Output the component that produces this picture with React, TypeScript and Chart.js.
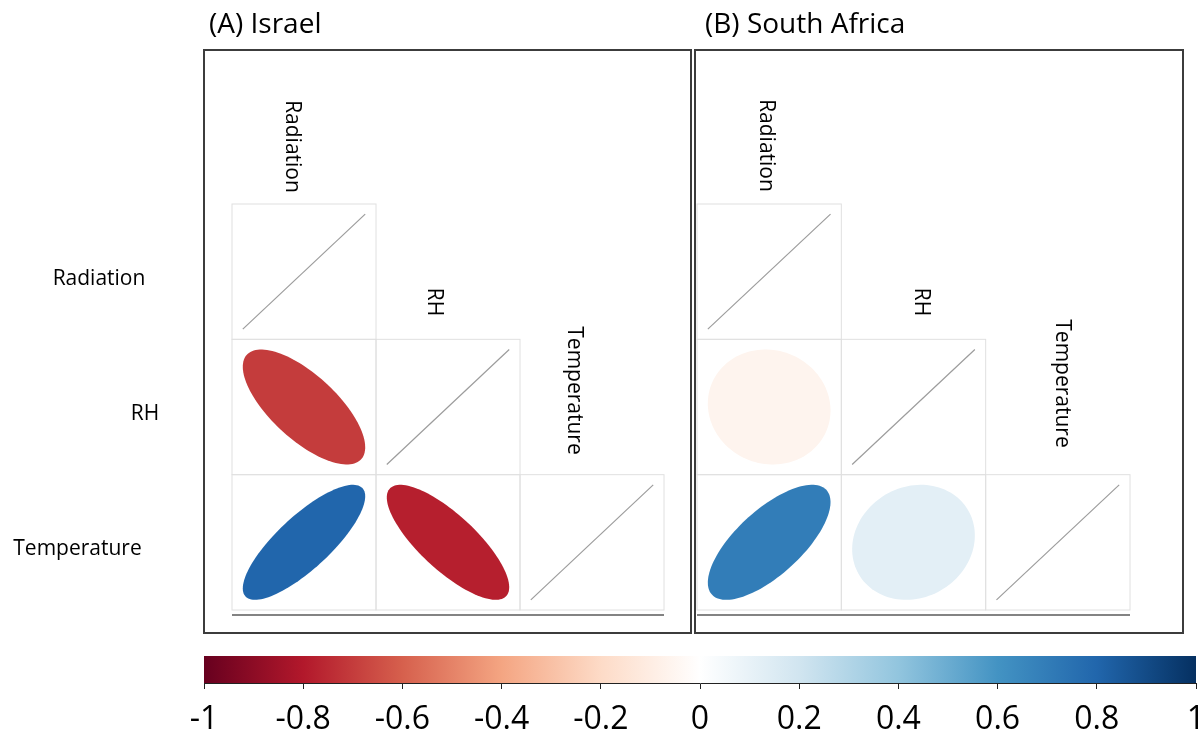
import React, { useEffect, useRef } from 'react';
import { Chart, registerables } from 'chart.js';

Chart.register(...registerables);

// ---------- data ----------
const variables = ['Radiation', 'RH', 'Temperature'];
const panelTitles = ['(A) Israel', '(B) South Africa'];

// lower-triangle correlation rows (row variable vs. column variables)
const israelRadiationRow = [1];
const israelRHRow = [-0.7, 1];
const israelTemperatureRow = [0.8, -0.78, 1];

const southAfricaRadiationRow = [1];
const southAfricaRHRow = [-0.06, 1];
const southAfricaTemperatureRow = [0.7, 0.12, 1];

const colorbarTicks = [-1, -0.8, -0.6, -0.4, -0.2, 0, 0.2, 0.4, 0.6, 0.8, 1];
const rdbuPalette = [
  '#67001F', '#B2182B', '#D6604D', '#F4A582', '#FDDBC7', '#FFFFFF',
  '#D1E5F0', '#92C5DE', '#4393C3', '#2166AC', '#053061',
];

// ---------- layout / style ----------
const FONT = '"Open Sans", "DejaVu Sans", sans-serif';
const W = 1200;
const H = 738;

const panelLayouts = [
  {
    titleX: 209,
    frame: [204, 50, 691, 633],
    grid: [232, 204, 664, 610],
    colLabelDx: [-18.5, -20, -24],
    colLabelY: [146.5, 302, 390.5],
    showRowLabels: true,
  },
  {
    titleX: 705,
    frame: [695, 50, 1183, 633],
    grid: [697, 204, 1130, 610],
    colLabelDx: [-9, 1, -2],
    colLabelY: [145.5, 302, 383.5],
    showRowLabels: false,
  },
];
const rowLabelCenterX = [99, 145, 77.5];
const ELLIPSE_SCALE = 0.85;

function hexToRgb(h: string) {
  const n = parseInt(h.slice(1), 16);
  return [(n >> 16) & 255, (n >> 8) & 255, n & 255];
}

function rampColor(v: number) {
  const t = ((v + 1) / 2) * (rdbuPalette.length - 1);
  const i = Math.max(0, Math.min(Math.floor(t), rdbuPalette.length - 2));
  const f = t - i;
  const a = hexToRgb(rdbuPalette[i]);
  const b = hexToRgb(rdbuPalette[i + 1]);
  const c = a.map((av, k) => Math.round(av + (b[k] - av) * f));
  return `rgb(${c[0]},${c[1]},${c[2]})`;
}

function buildPoints(rows: number[][]) {
  const pts: { x: number; y: number; v: number }[] = [];
  rows.forEach((row, i) => {
    row.forEach((v, j) => pts.push({ x: j + 1, y: i + 1, v }));
  });
  return pts;
}

function makePanelPlugin(title: string, layout: any) {
  return {
    id: 'corrPanel',
    afterDraw(chart: any) {
      const ctx: CanvasRenderingContext2D = chart.ctx;
      const xs = chart.scales.x;
      const ys = chart.scales.y;
      const cw = Math.abs(xs.getPixelForValue(1.5) - xs.getPixelForValue(0.5));
      const ch = Math.abs(ys.getPixelForValue(1.5) - ys.getPixelForValue(0.5));
      const meta = chart.getDatasetMeta(0);
      const raw = chart.data.datasets[0].data;

      ctx.save();
      // frame
      const [fx0, fy0, fx1, fy1] = layout.frame;
      ctx.strokeStyle = '#3c3c3c';
      ctx.lineWidth = 2;
      ctx.strokeRect(fx0, fy0, fx1 - fx0, fy1 - fy0);

      // title
      ctx.fillStyle = '#000';
      ctx.font = `28px ${FONT}`;
      ctx.textAlign = 'left';
      ctx.textBaseline = 'alphabetic';
      ctx.fillText(title, layout.titleX, 33);

      // cell borders
      ctx.strokeStyle = '#e0e0e0';
      ctx.lineWidth = 1;
      meta.data.forEach((el: any) => {
        ctx.strokeRect(el.x - cw / 2, el.y - ch / 2, cw, ch);
      });

      // ellipses / diagonal lines
      meta.data.forEach((el: any, i: number) => {
        const d = raw[i];
        const v = d.v;
        const sx = ELLIPSE_SCALE * cw;
        const sy = ELLIPSE_SCALE * ch;
        if (d.x === d.y) {
          ctx.strokeStyle = '#9c9c9c';
          ctx.lineWidth = 1.2;
          ctx.beginPath();
          ctx.moveTo(el.x - sx / 2, el.y + sy / 2);
          ctx.lineTo(el.x + sx / 2, el.y - sy / 2);
          ctx.stroke();
          return;
        }
        const a = Math.acos(v) / 2;
        ctx.fillStyle = rampColor(v);
        ctx.beginPath();
        const N = 120;
        for (let k = 0; k <= N; k++) {
          const t = (k / N) * Math.PI * 2;
          const ex = Math.cos(t + a) / 2;
          const ey = Math.cos(t - a) / 2;
          const px = el.x + ex * sx;
          const py = el.y - ey * sy;
          if (k === 0) ctx.moveTo(px, py);
          else ctx.lineTo(px, py);
        }
        ctx.closePath();
        ctx.fill();
      });

      // bottom base line
      const baseY = ys.getPixelForValue(3.5) + 5;
      ctx.strokeStyle = '#5a5a5a';
      ctx.lineWidth = 1.3;
      ctx.beginPath();
      ctx.moveTo(xs.getPixelForValue(0.5), baseY);
      ctx.lineTo(xs.getPixelForValue(3.5), baseY);
      ctx.stroke();

      // column labels (rotated)
      ctx.fillStyle = '#000';
      ctx.font = `21px ${FONT}`;
      variables.forEach((name, j) => {
        const x = xs.getPixelForValue(j + 1) + layout.colLabelDx[j];
        const y = layout.colLabelY[j];
        ctx.save();
        ctx.translate(x, y);
        ctx.rotate(Math.PI / 2);
        ctx.textAlign = 'center';
        ctx.textBaseline = 'alphabetic';
        ctx.fillText(name, 0, 0);
        ctx.restore();
      });

      // row labels
      if (layout.showRowLabels) {
        ctx.textAlign = 'center';
        ctx.textBaseline = 'alphabetic';
        variables.forEach((name, i) => {
          ctx.fillText(name, rowLabelCenterX[i], ys.getPixelForValue(i + 1) + 13);
        });
      }
      ctx.restore();
    },
  };
}

function panelConfig(rows: number[][], title: string, layout: any) {
  const [gx0, gy0, gx1, gy1] = layout.grid;
  return {
    type: 'scatter' as const,
    data: {
      datasets: [
        {
          data: buildPoints(rows),
          pointRadius: 0,
          pointHoverRadius: 0,
        },
      ],
    },
    options: {
      animation: false,
      responsive: false,
      devicePixelRatio: 1,
      events: [],
      layout: {
        autoPadding: false,
        padding: { left: gx0, top: gy0, right: W - gx1, bottom: H - gy1 },
      },
      plugins: { legend: { display: false }, tooltip: { enabled: false } },
      scales: {
        x: { type: 'linear', min: 0.5, max: 3.5, display: false },
        y: { type: 'linear', min: 0.5, max: 3.5, reverse: true, display: false },
      },
    },
    plugins: [makePanelPlugin(title, layout)],
  };
}

const colorbarPlugin = {
  id: 'colorbarFill',
  beforeDatasetsDraw(chart: any) {
    const { ctx, chartArea } = chart;
    const xs = chart.scales.x;
    const grad = ctx.createLinearGradient(chartArea.left, 0, chartArea.right, 0);
    const n = rdbuPalette.length - 1;
    rdbuPalette.forEach((c, i) => {
      const value = -1 + (2 * i) / n;
      const px = xs.getPixelForValue(value);
      grad.addColorStop((px - chartArea.left) / (chartArea.right - chartArea.left), c);
    });
    ctx.save();
    ctx.fillStyle = grad;
    ctx.fillRect(chartArea.left, chartArea.top, chartArea.right - chartArea.left, chartArea.bottom - chartArea.top);
    ctx.restore();
  },
};

function colorbarConfig() {
  return {
    type: 'scatter' as const,
    data: { datasets: [] },
    options: {
      animation: false,
      responsive: false,
      devicePixelRatio: 1,
      events: [],
      layout: {
        autoPadding: false,
        padding: { left: 204, top: 656, right: W - 1196, bottom: 0 },
      },
      plugins: { legend: { display: false }, tooltip: { enabled: false } },
      scales: {
        x: {
          type: 'linear',
          position: 'bottom',
          min: -1,
          max: 1,
          afterBuildTicks: (s: any) => {
            s.ticks = colorbarTicks.map((v) => ({ value: v }));
          },
          afterFit: (s: any) => {
            s.height = 55;
            s.paddingLeft = 0;
            s.paddingRight = 0;
          },
          ticks: {
            autoSkip: false,
            maxRotation: 0,
            minRotation: 0,
            padding: 12,
            color: '#000',
            font: { family: FONT, size: 32 },
            callback: (v: any) => String(v),
          },
          grid: {
            drawOnChartArea: false,
            drawTicks: true,
            tickLength: 6,
            color: '#222',
            lineWidth: 1,
          },
          border: { display: true, color: '#222', width: 1 },
        },
        y: { type: 'linear', min: 0, max: 1, display: false },
      },
    },
    plugins: [colorbarPlugin],
  };
}

export default function App() {
  const refA = useRef<HTMLCanvasElement>(null);
  const refB = useRef<HTMLCanvasElement>(null);
  const refC = useRef<HTMLCanvasElement>(null);

  useEffect(() => {
    document.body.style.margin = '0';
    const charts: Chart[] = [];
    charts.push(
      new Chart(
        refA.current as HTMLCanvasElement,
        panelConfig([israelRadiationRow, israelRHRow, israelTemperatureRow], panelTitles[0], panelLayouts[0]) as any,
      ),
    );
    charts.push(
      new Chart(
        refB.current as HTMLCanvasElement,
        panelConfig(
          [southAfricaRadiationRow, southAfricaRHRow, southAfricaTemperatureRow],
          panelTitles[1],
          panelLayouts[1],
        ) as any,
      ),
    );
    charts.push(new Chart(refC.current as HTMLCanvasElement, colorbarConfig() as any));
    return () => charts.forEach((c) => c.destroy());
  }, []);

  const canvasStyle: React.CSSProperties = { position: 'absolute', left: 0, top: 0 };
  return (
    <div style={{ position: 'fixed', left: 0, top: 0, width: W, height: H, background: '#fff', overflow: 'hidden' }}>
      <canvas ref={refC} width={W} height={H} style={canvasStyle} />
      <canvas ref={refA} width={W} height={H} style={canvasStyle} />
      <canvas ref={refB} width={W} height={H} style={canvasStyle} />
    </div>
  );
}
